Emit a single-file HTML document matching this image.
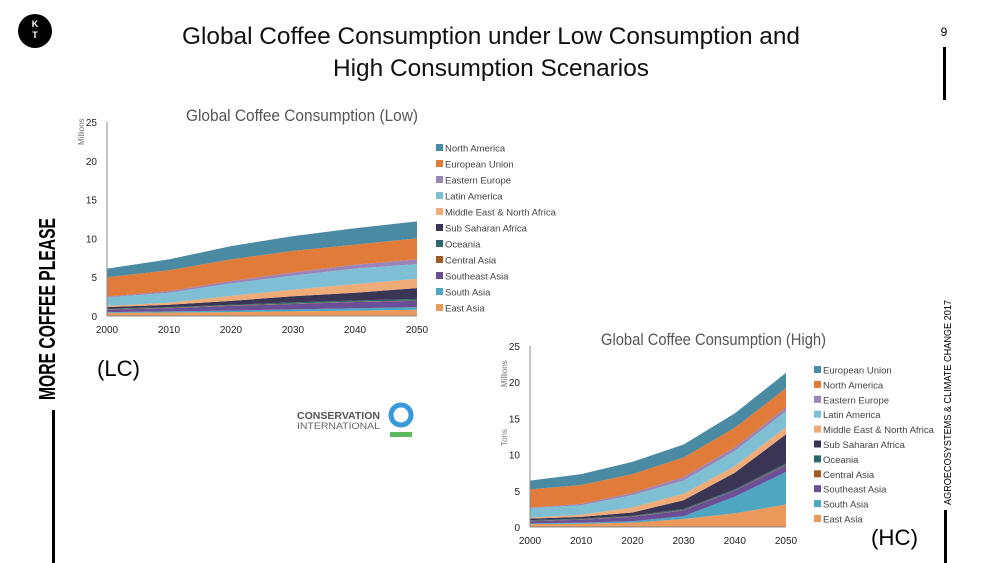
<!DOCTYPE html>
<html><head><meta charset="utf-8"><style>
html,body{margin:0;padding:0;background:#fff;}
svg{display:block;font-family:"Liberation Sans",sans-serif;}
</style></head><body>
<svg id="s" width="1000" height="563" viewBox="0 0 1000 563">
<g><circle cx="35" cy="31" r="17" fill="#000"/><text x="35" y="27" fill="#fff" font-size="9" font-weight="bold" text-anchor="middle">K</text><text x="35" y="38" fill="#fff" font-size="9" font-weight="bold" text-anchor="middle">T</text></g>
<text x="491" y="44" font-size="24" text-anchor="middle" textLength="618" lengthAdjust="spacingAndGlyphs" fill="#111">Global Coffee Consumption under Low Consumption and</text>
<text x="491" y="76" font-size="24" text-anchor="middle" textLength="316" lengthAdjust="spacingAndGlyphs" fill="#111">High Consumption Scenarios</text>
<text x="944" y="36" font-size="12" text-anchor="middle">9</text>
<rect x="943" y="47" width="3" height="53" fill="#000"/>
<text transform="translate(951,505) rotate(-90)" font-size="10.5" textLength="205" lengthAdjust="spacingAndGlyphs">AGROECOSYSTEMS &amp; CLIMATE CHANGE 2017</text>
<rect x="944" y="510" width="3" height="53" fill="#000"/>
<text transform="translate(55,400) rotate(-90)" font-size="23" font-weight="bold" textLength="182" lengthAdjust="spacingAndGlyphs">MORE COFFEE PLEASE</text>
<rect x="52" y="410" width="3" height="153" fill="#000"/>
<text x="97" y="376" font-size="22" textLength="43" lengthAdjust="spacingAndGlyphs">(LC)</text>
<text x="871" y="545" font-size="22" textLength="47" lengthAdjust="spacingAndGlyphs">(HC)</text>
<g>
<text x="297" y="419" font-size="10" font-weight="bold" fill="#555" textLength="83" lengthAdjust="spacingAndGlyphs">CONSERVATION</text>
<text x="297" y="429" font-size="9.5" fill="#666" textLength="83" lengthAdjust="spacingAndGlyphs">INTERNATIONAL</text>
<circle cx="401" cy="415" r="10" fill="none" stroke="#3a9ad9" stroke-width="5"/>
<rect x="390" y="432" width="22" height="5" fill="#5cb85c"/></g>
<g id="low"></g><g id="high"></g>
</svg>
<script>
const years=[2000,2010,2020,2030,2040,2050];
const yTicks=[0,5,10,15,20,25];
const colors=["#eb9a5b","#4ea6c0","#6a4e96","#a25a26","#2e6670","#3a3455","#efab78","#7fbfd4","#9a84b8","#e07b39","#4a8ba3"];
const lowNames=["East Asia","South Asia","Southeast Asia","Central Asia","Oceania","Sub Saharan Africa","Middle East & North Africa","Latin America","Eastern Europe","European Union","North America"];
const highNames=["East Asia","South Asia","Southeast Asia","Central Asia","Oceania","Sub Saharan Africa","Middle East & North Africa","Latin America","Eastern Europe","North America","European Union"];
const lowEastAsia=[0.4,0.45,0.5,0.6,0.7,0.8];
const lowSouthAsia=[0.1,0.15,0.2,0.25,0.3,0.35];
const lowSoutheastAsia=[0.3,0.4,0.6,0.7,0.8,0.8];
const lowCentralAsia=[0.05,0.05,0.05,0.05,0.05,0.05];
const lowOceania=[0.1,0.1,0.1,0.15,0.15,0.2];
const lowSSA=[0.2,0.3,0.5,0.8,1.0,1.4];
const lowMENA=[0.15,0.25,0.65,0.85,1.1,1.2];
const lowLatAm=[1.1,1.3,1.6,1.8,2.0,1.9];
const lowEastEurope=[0.1,0.2,0.3,0.4,0.5,0.6];
const lowEU=[2.5,2.7,2.8,2.8,2.6,2.7];
const lowNA=[1.1,1.4,1.7,1.9,2.1,2.2];
const highEastAsia=[0.4,0.45,0.6,1.1,1.9,3.1];
const highSouthAsia=[0.1,0.15,0.2,0.4,2.3,4.5];
const highSoutheastAsia=[0.3,0.4,0.6,0.8,0.8,0.9];
const highCentralAsia=[0.05,0.05,0.05,0.05,0.05,0.1];
const highOceania=[0.1,0.1,0.1,0.15,0.15,0.2];
const highSSA=[0.2,0.25,0.45,1.2,2.3,4.0];
const highMENA=[0.15,0.3,0.7,0.9,0.9,1.0];
const highLatAm=[1.3,1.3,1.7,1.8,2.1,2.2];
const highEastEurope=[0.1,0.2,0.3,0.5,0.5,0.5];
const highNA=[2.5,2.6,2.6,2.7,2.7,2.7];
const highEU=[1.2,1.5,1.7,1.8,2.0,2.1];
const lowSeries=[lowEastAsia,lowSouthAsia,lowSoutheastAsia,lowCentralAsia,lowOceania,lowSSA,lowMENA,lowLatAm,lowEastEurope,lowEU,lowNA];
const highSeries=[highEastAsia,highSouthAsia,highSoutheastAsia,highCentralAsia,highOceania,highSSA,highMENA,highLatAm,highEastEurope,highNA,highEU];
const NS="http://www.w3.org/2000/svg";
function mk(parent,tag,attrs,txt){const e=document.createElementNS(NS,tag);for(const k in attrs)e.setAttribute(k,attrs[k]);if(txt!==undefined)e.textContent=txt;parent.appendChild(e);return e;}
function draw(gid,cfg,series,names,title,slug){
 const g=document.getElementById(gid);
 const xS=y=>cfg.x0+(y-years[0])/(years[years.length-1]-years[0])*(cfg.x1-cfg.x0);
 const yS=v=>cfg.y0-v/25*(cfg.y0-cfg.y1);
 const t=mk(g,'text',{x:cfg.tx,y:cfg.ty,'font-size':17,fill:'#555',textLength:cfg.tl,lengthAdjust:'spacingAndGlyphs'},title);
 
 
 let base=years.map(()=>0);
 series.forEach((s,i)=>{
  const top=base.map((b,j)=>b+s[j]);
  let d='M'+years.map((y,j)=>xS(y)+','+yS(top[j])).join('L');
  d+='L'+years.slice().reverse().map((y,k)=>{const j=years.length-1-k;return xS(y)+','+yS(base[j]);}).join('L')+'Z';
  const p=mk(g,'path',{d:d,fill:colors[i]});
  
  
  base=top;
 });
 const ax=mk(g,'line',{x1:cfg.x0,y1:cfg.y1,x2:cfg.x0,y2:cfg.y0,stroke:'#888','stroke-width':1});
 
 
 const bx=mk(g,'line',{x1:cfg.x0,y1:cfg.y0,x2:cfg.x1,y2:cfg.y0,stroke:'#888','stroke-width':1});
 
 
 yTicks.forEach(v=>{const e=mk(g,'text',{x:cfg.x0-10,y:yS(v)+4,'font-size':10,'text-anchor':'end',fill:'#222'},v);
  
  });
 years.forEach(y=>{const e=mk(g,'text',{x:xS(y),y:cfg.y0+17,'font-size':10,'text-anchor':'middle',fill:'#222'},y);
  
  });
 cfg.units.forEach(u=>{const e=mk(g,'text',{transform:'translate('+u[0]+','+u[1]+') rotate(-90)','font-size':8,fill:'#777'},u[2]);
  
  });
 for(let i=series.length-1;i>=0;i--){
  const r=series.length-1-i;const yy=cfg.ly+r*cfg.ls;
  const lg=mk(g,'g',{});
  
  
  mk(lg,'rect',{x:cfg.lx,y:yy-4,width:7,height:7,fill:colors[i]});
  mk(lg,'text',{x:cfg.lx+9,y:yy+3.5,'font-size':9.5,fill:'#444'},names[i]);
 }
}
draw('low',{x0:107,x1:417,y0:316,y1:122,tx:186,ty:121,tl:232,lx:436,ly:148,ls:16,units:[[84,145,'Millions']]},lowSeries,lowNames,'Global Coffee Consumption (Low)','low');
draw('high',{x0:530,x1:786,y0:527,y1:346,tx:601,ty:345,tl:225,lx:814,ly:370,ls:14.9,units:[[507,387,'Millions'],[507,446,'Tons']]},highSeries,highNames,'Global Coffee Consumption (High)','high');
</script>
</body></html>
